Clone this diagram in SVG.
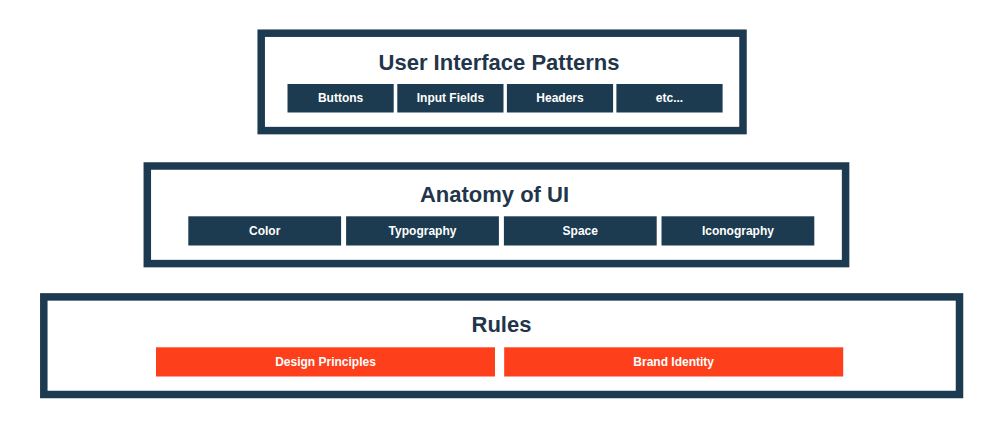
<svg xmlns="http://www.w3.org/2000/svg" width="1000" height="429" viewBox="0 0 1000 429">
<style>
.frame{fill:#ffffff;stroke:#1d3b50;stroke-width:7.5}
.title{font-family:"Liberation Sans",Arial,sans-serif;font-weight:700;font-size:22px;fill:#22354a;text-anchor:middle}
.cell{fill:#1d3b50}
.cellr{fill:#fd3f1b}
.lbl{font-family:"Liberation Sans",Arial,sans-serif;font-weight:700;font-size:12px;fill:#ffffff;text-anchor:middle}
</style>
<rect width="1000" height="429" fill="#ffffff"/>
<g id="user-interface-patterns">
<rect class="frame" x="261.2" y="33.2" width="481.8" height="97.4"/>
<text class="title" x="499" y="69.5">User Interface Patterns</text>
</g>
<g id="buttons"><rect class="cell" x="287.5" y="84" width="106.2" height="28.5"/><text class="lbl" x="340.6" y="102.3">Buttons</text></g>
<g id="input-fields"><rect class="cell" x="397.3" y="84" width="106.2" height="28.5"/><text class="lbl" x="450.4" y="102.3">Input Fields</text></g>
<g id="headers"><rect class="cell" x="506.9" y="84" width="106.2" height="28.5"/><text class="lbl" x="560" y="102.3">Headers</text></g>
<g id="etc"><rect class="cell" x="616.4" y="84" width="106.2" height="28.5"/><text class="lbl" x="669.5" y="102.3">etc...</text></g>
<g id="anatomy-of-ui">
<rect class="frame" x="147.3" y="166" width="698.3" height="97.6"/>
<text class="title" x="494.5" y="201.5">Anatomy of UI</text>
</g>
<g id="color"><rect class="cell" x="188.3" y="216.3" width="152.8" height="29.2"/><text class="lbl" x="264.7" y="235">Color</text></g>
<g id="typography"><rect class="cell" x="346.1" y="216.3" width="152.8" height="29.2"/><text class="lbl" x="422.5" y="235">Typography</text></g>
<g id="space"><rect class="cell" x="503.9" y="216.3" width="152.8" height="29.2"/><text class="lbl" x="580.3" y="235">Space</text></g>
<g id="iconography"><rect class="cell" x="661.5" y="216.3" width="152.8" height="29.2"/><text class="lbl" x="737.9" y="235">Iconography</text></g>
<g id="rules">
<rect class="frame" x="43.8" y="296.9" width="915.7" height="97.6"/>
<text class="title" x="501.5" y="331.5">Rules</text>
</g>
<g id="design-principles"><rect class="cellr" x="156" y="347.3" width="339" height="29.2"/><text class="lbl" x="325.5" y="366">Design Principles</text></g>
<g id="brand-identity"><rect class="cellr" x="504.2" y="347.3" width="339" height="29.2"/><text class="lbl" x="673.7" y="366">Brand Identity</text></g>
<g id="connectors"></g>
</svg>
